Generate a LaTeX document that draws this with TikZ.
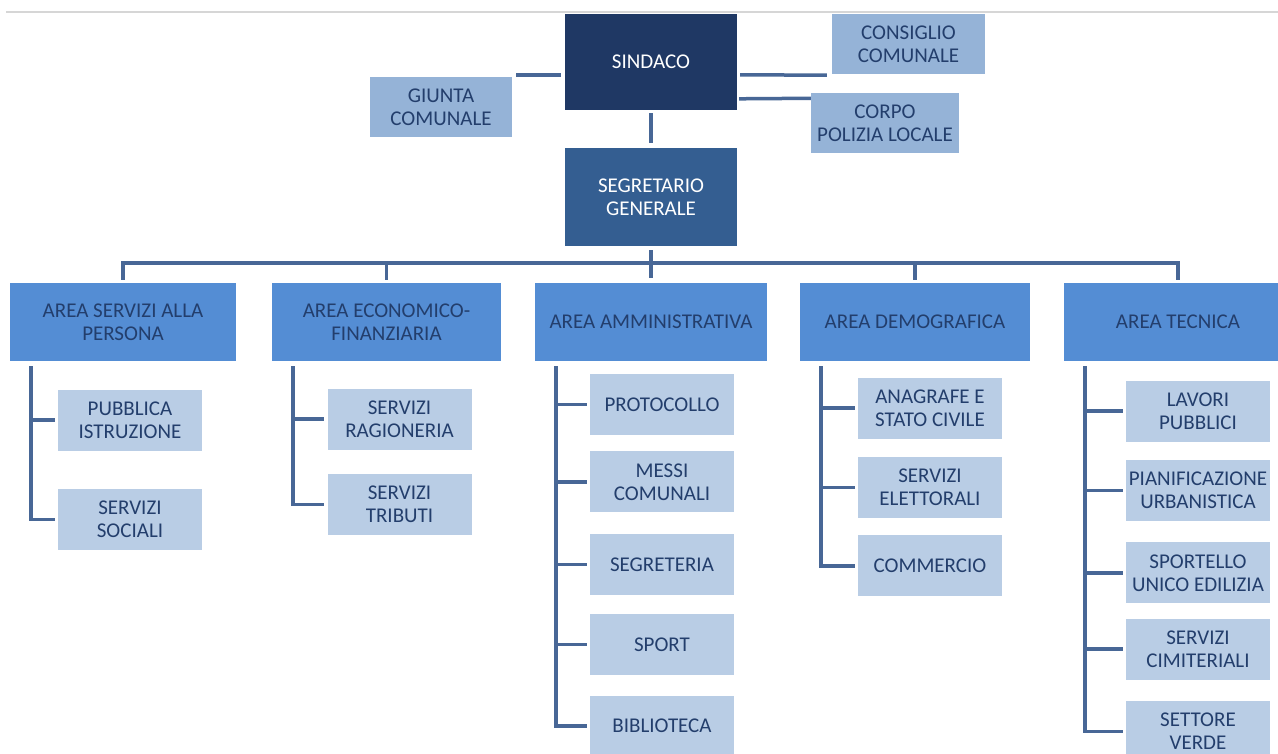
\documentclass[tikz,border=0pt]{standalone}
\usepackage{fontspec}
\setmainfont{Carlito}
\usetikzlibrary{positioning,calc}
\definecolor{navysind}{RGB}{31,56,100}
\definecolor{blueseg}{RGB}{52,94,145}
\definecolor{bluearea}{RGB}{84,141,212}
\definecolor{blueside}{RGB}{149,179,215}
\definecolor{bluesub}{RGB}{185,205,229}
\definecolor{bluetext}{RGB}{35,62,108}
\definecolor{blueline}{RGB}{72,103,150}
\definecolor{grayrule}{RGB}{214,214,214}

\begin{document}
\begin{tikzpicture}[x=1pt,y=-1pt,
  mynodetop/.style={fill=navysind,text=white,align=center,inner sep=0pt,minimum width=172pt,minimum height=96pt,font=\fontsize{21}{23}\selectfont},
  mynodeseg/.style={fill=blueseg,text=white,align=center,inner sep=0pt,minimum width=172pt,minimum height=98pt,font=\fontsize{21}{23}\selectfont},
  mynodeside/.style={fill=blueside,text=bluetext,align=center,inner sep=0pt,minimum height=60pt,font=\fontsize{21}{23}\selectfont},
  mynodearea/.style={fill=bluearea,text=bluetext,align=center,inner sep=0pt,minimum height=78pt,font=\fontsize{21}{23}\selectfont},
  mynodesub/.style={fill=bluesub,text=bluetext,align=center,inner sep=0pt,minimum width=144pt,minimum height=61pt,font=\fontsize{21}{23}\selectfont},
  myline/.style={draw=blueline,line width=3.5pt,line join=miter}
]
\useasboundingbox (0,0) rectangle (1278,754);
\fill[white] (0,0) rectangle (1278,754);
\draw[grayrule,line width=1.5pt] (6,12) -- (1278,12);

% vertice
\node[mynodetop] (sind) at (651,62) {SINDACO};
\node[mynodeseg] (seg) at (651,197) {SEGRETARIO\\GENERALE};
\node[mynodeside,minimum width=142pt] (giu) at (441,107) {GIUNTA\\COMUNALE};
\node[mynodeside,minimum width=153pt] (con) at (908.5,44) {CONSIGLIO\\COMUNALE};
\node[mynodeside,minimum width=148pt] (cor) at (885,123.5) {CORPO\\POLIZIA LOCALE};

% aree
\node[mynodearea,minimum width=226pt] (a1) at (123,322) {AREA SERVIZI ALLA\\PERSONA};
\node[mynodearea,minimum width=229pt] (a2) at (386.5,322) {AREA ECONOMICO-\\FINANZIARIA};
\node[mynodearea,minimum width=232pt] (a3) at (651,322) {AREA AMMINISTRATIVA};
\node[mynodearea,minimum width=230pt] (a4) at (915,322) {AREA DEMOGRAFICA};
\node[mynodearea,minimum width=228pt] (a5) at (1178,322) {AREA TECNICA};

% servizi
\node[mynodesub] at (130,420) (s11) {PUBBLICA\\ISTRUZIONE};
\node[mynodesub, below = 38pt of s11] (s12) {SERVIZI\\SOCIALI};

\node[mynodesub] at (399.5,419) (s21) {SERVIZI\\RAGIONERIA};
\node[mynodesub, below = 24pt of s21] (s22) {SERVIZI\\TRIBUTI};

\node[mynodesub] at (662,404.5) (s31) {PROTOCOLLO};
\node[mynodesub, below = 16pt of s31] (s32) {MESSI\\COMUNALI};
\node[mynodesub, below = 21pt of s32] (s33) {SEGRETERIA};
\node[mynodesub, below = 19pt of s33] (s34) {SPORT};
\node[mynodesub, below = 20pt of s34] (s35) {BIBLIOTECA};

\node[mynodesub] at (930,408) (s41) {ANAGRAFE E\\STATO CIVILE};
\node[mynodesub, below = 18pt of s41] (s42) {SERVIZI\\ELETTORALI};
\node[mynodesub, below = 17pt of s42] (s43) {COMMERCIO};

\node[mynodesub] at (1198,411) (s51) {LAVORI\\PUBBLICI};
\node[mynodesub, below = 18pt of s51] (s52) {PIANIFICAZIONE\\URBANISTICA};
\node[mynodesub, below = 21pt of s52] (s53) {SPORTELLO\\UNICO EDILIZIA};
\node[mynodesub, below = 15pt of s53] (s54) {SERVIZI\\CIMITERIALI};
\node[mynodesub, below = 21pt of s54] (s55) {SETTORE\\VERDE};

% collegamenti
\draw[myline] ($(sind.north west)+(-4,61)$) -- ($(giu.north east)+(4,-2)$);
\draw[myline] ($(sind.north east)+(3,61)$) -- ($(con.south west)+(-5,1)$);
\draw[myline] ($(sind.north east)+(2,85)$) -- ($(cor.north west)+(0,5)$);
\draw[myline,shorten <=3pt,shorten >=5pt] (sind) -- (seg);

\coordinate (bus) at (651,263);
\draw[myline,shorten <=4pt,shorten >=5pt] (seg) -- (a3);
\draw[myline] ($(a1.north)+(0,-3)$) |- (bus) -| ($(a5.north)+(0,-3)$);
\draw[myline] (a2.north |- bus) -- ($(a2.north)+(0,-3)$);
\draw[myline] (a4.north |- bus) -- ($(a4.north)+(0,-3)$);

\foreach \a/\n in {1/2,2/2,3/5,4/3,5/5}{
  \coordinate (t\a) at ($(a\a.south west)+(21,5)$);
  \draw[myline,shorten >=3pt] (t\a) |- (s\a\n.west);
  \foreach \b in {1,...,\n}{
    \draw[myline,shorten >=3pt] (t\a |- s\a\b.west) -- (s\a\b.west);
  }
}

\end{tikzpicture}
\end{document}
